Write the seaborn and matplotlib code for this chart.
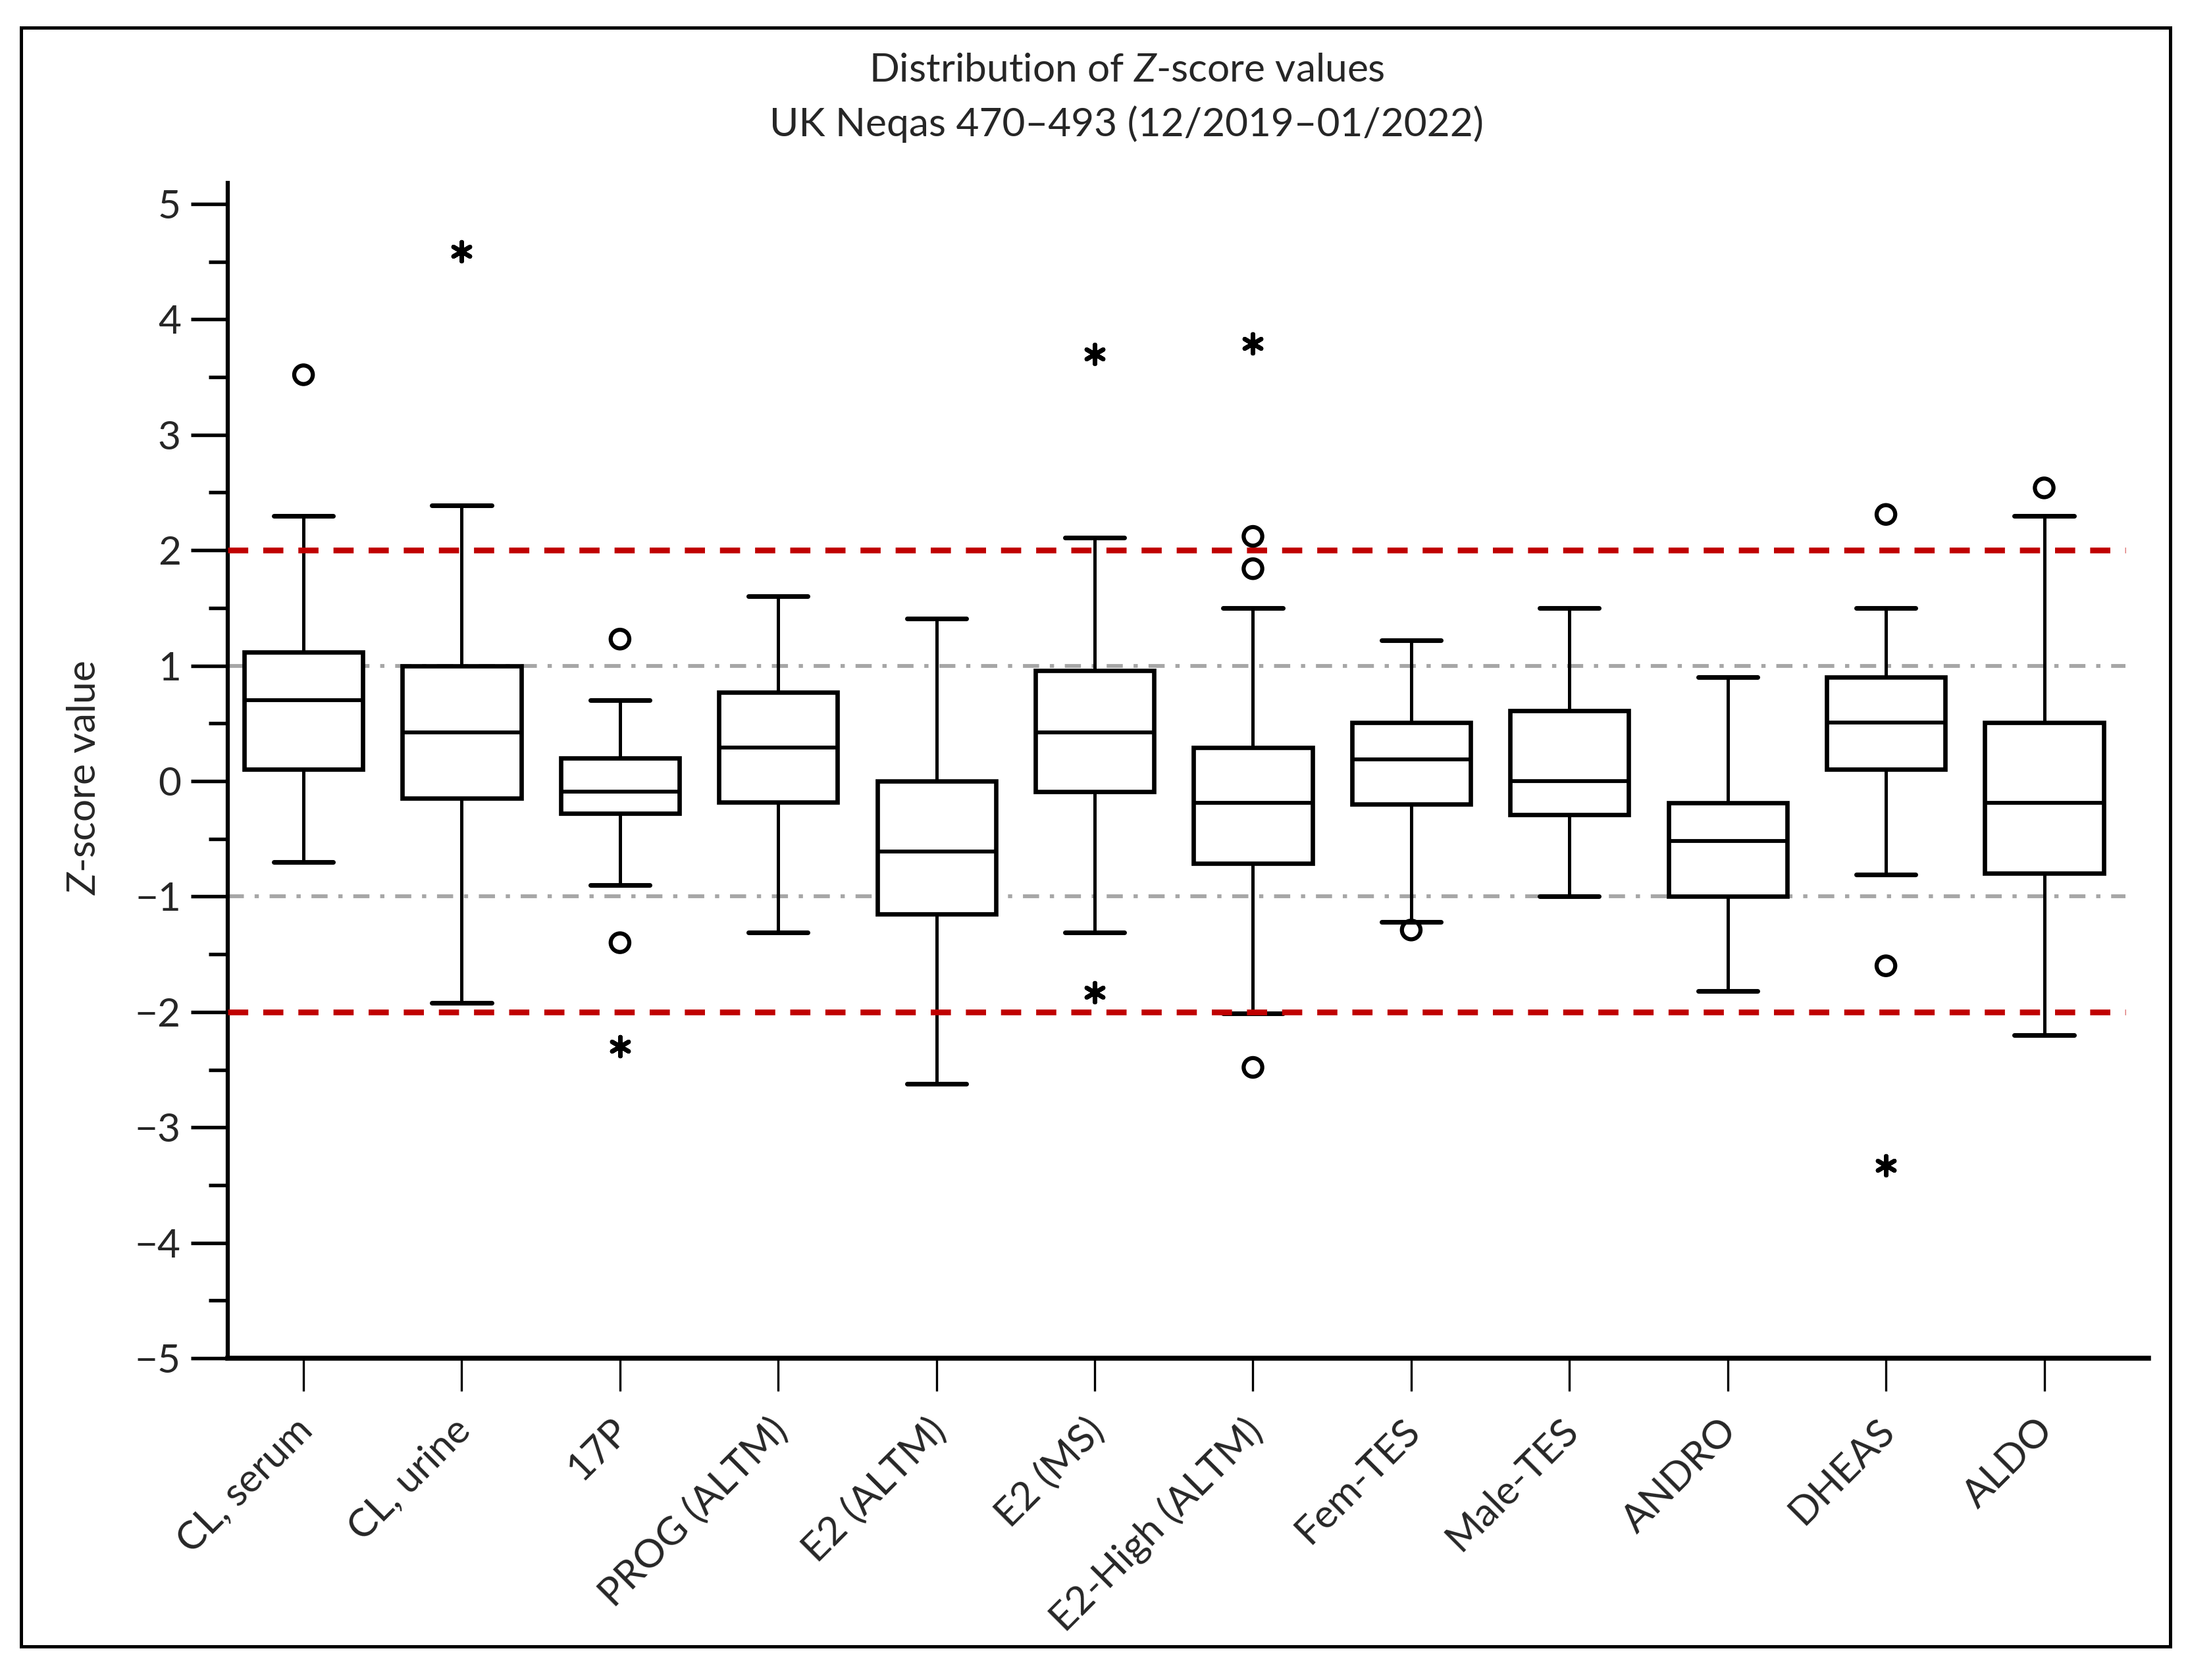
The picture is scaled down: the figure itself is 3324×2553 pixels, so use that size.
import numpy as np
import pandas as pd
import matplotlib
matplotlib.use("Agg")
import matplotlib.pyplot as plt
import matplotlib.transforms as mtransforms
from matplotlib.patches import Rectangle
from matplotlib.ticker import MultipleLocator
import seaborn as sns

# Five-number summaries
categories = ['CL, serum', 'CL, urine', '17P', 'PROG (ALTM)', 'E2 (ALTM)', 'E2 (MS)',
              'E2-High (ALTM)', 'Fem-TES', 'Male-TES', 'ANDRO', 'DHEAS', 'ALDO']
whisker_low = [-0.70, -1.92, -0.90, -1.31, -2.62, -1.31, -2.01, -1.22, -1.00, -1.82, -0.81, -2.20]
q1 = [0.10, -0.15, -0.28, -0.18, -1.15, -0.09, -0.71, -0.20, -0.29, -1.00, 0.10, -0.80]
median = [0.70, 0.42, -0.09, 0.29, -0.61, 0.42, -0.19, 0.19, 0.00, -0.52, 0.51, -0.19]
q3 = [1.12, 1.00, 0.20, 0.77, 0.00, 0.96, 0.29, 0.51, 0.61, -0.19, 0.90, 0.51]
whisker_high = [2.30, 2.39, 0.70, 1.60, 1.41, 2.11, 1.50, 1.22, 1.50, 0.90, 1.50, 2.30]

# outliers (o) and extreme values (*)
mild_test = ['CL, serum', '17P', '17P', 'E2-High (ALTM)', 'E2-High (ALTM)', 'E2-High (ALTM)',
             'Fem-TES', 'DHEAS', 'DHEAS', 'ALDO']
mild_value = [3.52, 1.23, -1.40, 2.12, 1.84, -2.48, -1.29, 2.31, -1.60, 2.54]
extreme_test = ['CL, urine', '17P', 'E2 (MS)', 'E2 (MS)', 'E2-High (ALTM)', 'DHEAS']
extreme_value = [4.59, -2.30, 3.70, -1.83, 3.79, -3.33]

sns.set_style("ticks")
plt.rcParams['font.family'] = ['Lato', 'DejaVu Sans']
plt.rcParams['mathtext.fontset'] = 'custom'
plt.rcParams['mathtext.rm'] = 'Lato'
plt.rcParams['mathtext.it'] = 'Lato:italic'

# long table: the five summary values per test give exactly these quartiles
rows = []
for i, name in enumerate(categories):
    for v in (whisker_low[i], q1[i], median[i], q3[i], whisker_high[i]):
        rows.append({'test': name, 'z': v})
box_df = pd.DataFrame(rows)
mild_df = pd.DataFrame({'test': mild_test, 'z': mild_value})
extreme_df = pd.DataFrame({'test': extreme_test, 'z': extreme_value})

fig = plt.figure(figsize=(11.08, 8.51), dpi=300)
ax = fig.add_axes([0.104, 0.1915, 0.878, 0.6995])

# reference lines at +/-1 (behind the boxes)
for y in (1, -1):
    ax.axhline(y, xmax=0.988, color='#A6A6A6', lw=1.4, ls=(0, (4.2, 2.8, 1.1, 2.8)), zorder=0.5)

sns.boxplot(data=box_df, x='test', y='z', order=categories, width=0.75, whis=(0, 100),
            color='white', linecolor='black', linewidth=1.6, fliersize=0, saturation=1,
            whiskerprops=dict(linewidth=1.2), capprops=dict(linewidth=1.7),
            medianprops=dict(linewidth=1.4), ax=ax)

# action limits at +/-2
for y in (2, -2):
    ax.axhline(y, xmax=0.988, color='#C00000', lw=2.1, ls=(0, (3.5, 2.6)), zorder=3)

sns.scatterplot(data=mild_df, x='test', y='z', marker='o', s=46, facecolors='none',
                edgecolor='black', linewidth=1.5, ax=ax, zorder=4)
sns.scatterplot(data=extreme_df, x='test', y='z', marker=(6, 2, 0), s=48, color='black',
                linewidth=1.6, ax=ax, zorder=4)

ax.set_xlim(-0.48, 11.66)
ax.set_ylim(-5, 5.18)
ax.yaxis.set_major_locator(MultipleLocator(1))
ax.yaxis.set_minor_locator(MultipleLocator(0.5))
ax.tick_params(axis='y', which='major', length=13.5, width=1.3, labelsize=14.5, pad=3.5, color='black')
ax.tick_params(axis='y', which='minor', length=7, width=1.3, color='black')
ax.tick_params(axis='x', which='major', length=12, width=0.8, labelsize=14.5, pad=7.6, color='black')
ax.set_xticks(range(len(categories)))
ax.set_xticklabels(categories, rotation=45, ha='right', rotation_mode='anchor')
shift = mtransforms.ScaledTranslation(-3.5 / 72, 0, fig.dpi_scale_trans)
for lab in ax.get_xticklabels():
    lab.set_transform(lab.get_transform() + shift)
ax.set_xlabel('')
ax.set_ylabel('')

sns.despine(ax=ax)
ax.spines['left'].set_linewidth(1.5)
ax.spines['bottom'].set_linewidth(1.8)
ax.spines['left'].set_color('black')
ax.spines['bottom'].set_color('black')

fig.text(0.0385, 0.537, '$\\mathit{Z}$-score value', rotation=90, ha='center', va='center', fontsize=14.5)
fig.text(0.515, 0.958, 'Distribution of $\\mathit{Z}$-score values', ha='center', va='center', fontsize=14.5)
fig.text(0.515, 0.926, 'UK Neqas 470\u2013493 (12/2019\u201301/2022)', ha='center', va='center', fontsize=14.5)

fig.patches.append(Rectangle((0.0096, 0.02), 0.9824, 0.9635, transform=fig.transFigure,
                             fill=False, edgecolor='black', linewidth=1.2))

fig.savefig('out.png', dpi=300)
